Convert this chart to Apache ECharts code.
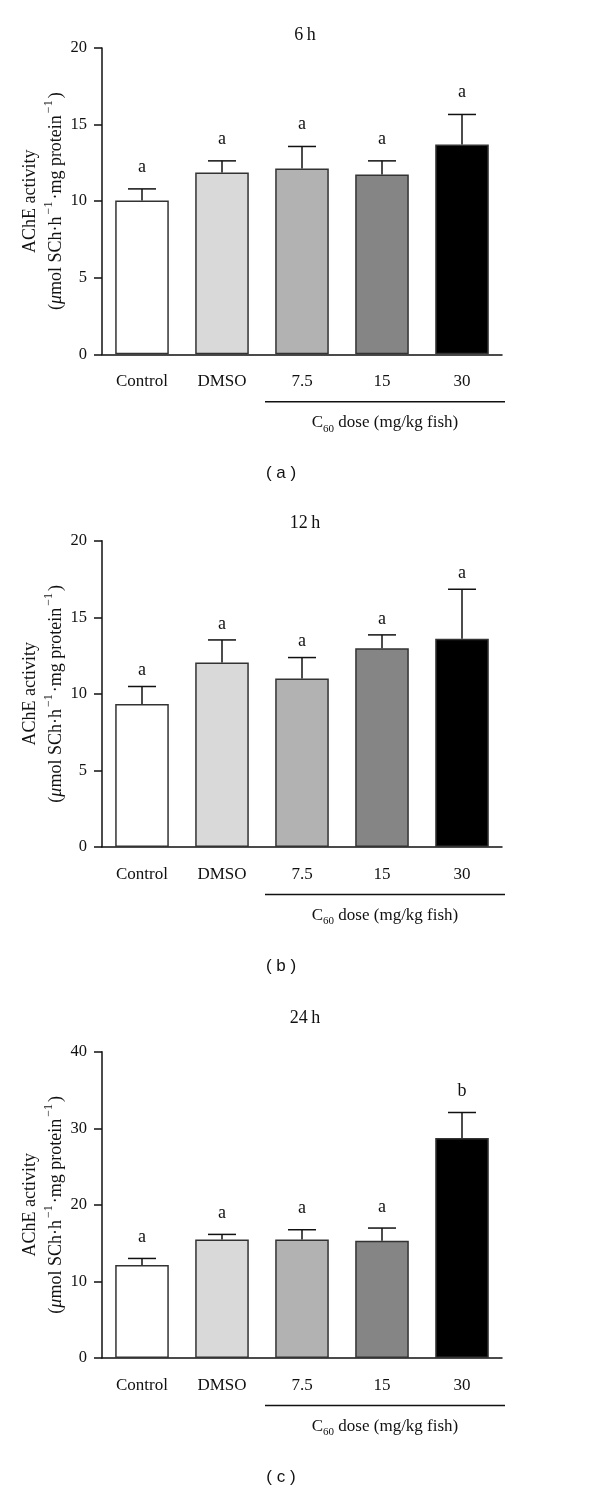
<!DOCTYPE html>
<html>
<head>
<meta charset="utf-8">
<script src="https://cdn.jsdelivr.net/npm/echarts@6/dist/echarts.min.js"></script>
<style>
html,body{margin:0;padding:0;background:#fff;}
#chart{width:600px;height:1491px;}
</style>
</head>
<body>
<div id="chart"></div>
<script>
// ---- data ----
var categories = ['Control', 'DMSO', '7.5', '15', '30'];
var panelTitles = ['6\u2009h', '12\u2009h', '24\u2009h'];
var panelCaptions = ['( a )', '( b )', '( c )'];
var mean6h  = [10.05, 11.87, 12.13, 11.74, 13.70];
var sem6h   = [0.75, 0.76, 1.44, 0.89, 1.96];
var mean12h = [9.33, 12.04, 11.00, 12.98, 13.59];
var sem12h  = [1.15, 1.48, 1.37, 0.87, 3.24];
var mean24h = [12.14, 15.48, 15.48, 15.31, 28.72];
var sem24h  = [0.86, 0.66, 1.27, 1.66, 3.34];
var letters6h  = ['a', 'a', 'a', 'a', 'a'];
var letters12h = ['a', 'a', 'a', 'a', 'a'];
var letters24h = ['a', 'a', 'a', 'a', 'b'];
var yMax = [20, 20, 40];
var yInterval = [5, 5, 10];

// ---- styling / layout ----
var barColors = ['#ffffff', '#d9d9d9', '#b2b2b2', '#858585', '#000000'];
var SERIF = '"Liberation Serif", "Times New Roman", serif';
var SANS = '"Liberation Sans", Arial, sans-serif';
var gridLeft = 102, gridWidth = 400;
var gridTops = [48, 540.7, 1051.7];
var gridHeight = 306.3;
var titleTops = [21, 509, 1004];
var letterGap = [22, 16, 21];

var means = [mean6h, mean12h, mean24h];
var sems = [sem6h, sem12h, sem24h];
var letters = [letters6h, letters12h, letters24h];

var grids = [], xAxes = [], yAxes = [], series = [], titles = [], graphics = [];

for (var p = 0; p < 3; p++) {
  grids.push({left: gridLeft, width: gridWidth, top: gridTops[p], height: gridHeight, containLabel: false});
  titles.push({
    text: panelTitles[p], left: 300, textAlign: 'center', top: titleTops[p],
    textStyle: {fontFamily: SERIF, fontSize: 18, fontWeight: 'normal', color: '#111'}
  });
  xAxes.push({
    type: 'category', gridIndex: p, data: categories,
    axisLine: {lineStyle: {color: '#111', width: 1.5}},
    axisTick: {alignWithLabel: true, length: 10, lineStyle: {color: '#111', width: 1.5}},
    axisLabel: {fontFamily: SERIF, fontSize: 17, color: '#111', margin: 19}
  });
  yAxes.push({
    type: 'value', gridIndex: p, min: 0, max: yMax[p], interval: yInterval[p],
    splitLine: {show: false},
    axisLine: {show: true, lineStyle: {color: '#111', width: 1.5}},
    axisTick: {show: true, length: 8, lineStyle: {color: '#111', width: 1.5}},
    axisLabel: {fontFamily: SERIF, fontSize: 16.5, color: '#111', margin: 15},
    name: '{t|AChE activity}\n{t|(}{mu|\u03bc}{t|mol SCh\u00b7h}{sup|\u22121}{t|\u00b7mg protein}{sup|\u22121}{t|)}',
    nameLocation: 'middle', nameRotate: 90, nameGap: 33, nameMoveOverlap: false,
    nameTextStyle: {
      fontFamily: SERIF, fontSize: 18, color: '#111', lineHeight: 26,
      rich: {
        t: {fontFamily: SERIF, fontSize: 18, color: '#111', lineHeight: 26},
        mu: {fontFamily: SERIF, fontSize: 18, fontStyle: 'italic', color: '#111', lineHeight: 26},
        sup: {fontFamily: SERIF, fontSize: 12, color: '#111', verticalAlign: 'top', lineHeight: 12, padding: [0, 2, 0, 2]}
      }
    }
  });
  series.push({
    type: 'bar', xAxisIndex: p, yAxisIndex: p, barWidth: '67%',
    data: means[p].map(function (v, i) {
      return {value: v, itemStyle: {color: barColors[i]}};
    }),
    itemStyle: {borderColor: '#333', borderWidth: 1.5},
    silent: true
  });
  (function (pi) {
    series.push({
      type: 'custom', xAxisIndex: pi, yAxisIndex: pi, z: 5,
      data: means[pi].map(function (v, i) { return [i, v, v + sems[pi][i]]; }),
      renderItem: function (params, api) {
        var i = api.value(0);
        var base = api.coord([i, api.value(1)]);
        var top = api.coord([i, api.value(2)]);
        var cap = 14;
        return {
          type: 'group',
          children: [
            {type: 'line', shape: {x1: base[0], y1: base[1], x2: top[0], y2: top[1]}, style: {stroke: '#111', lineWidth: 1.5}},
            {type: 'line', shape: {x1: top[0] - cap, y1: top[1], x2: top[0] + cap, y2: top[1]}, style: {stroke: '#111', lineWidth: 1.5}},
            {type: 'text', x: top[0], y: top[1] - letterGap[pi],
              style: {text: letters[pi][params.dataIndex], fontFamily: SERIF, fontSize: 18, fill: '#111', align: 'center', verticalAlign: 'middle'}}
          ]
        };
      }
    });
  })(p);

  var axisY = gridTops[p] + gridHeight;
  var band = gridWidth / categories.length;
  var lx1 = gridLeft + 2 * band + 3, lx2 = gridLeft + gridWidth + 3;
  graphics.push({type: 'line', shape: {x1: lx1, y1: axisY + 47.5, x2: lx2, y2: axisY + 47.5}, style: {stroke: '#111', lineWidth: 1.5}});
  graphics.push({type: 'text', x: (lx1 + lx2) / 2, y: axisY + 70,
    style: {text: '{m|C}{sub|60}{m| dose (mg/kg fish)}', fontFamily: SERIF, fontSize: 17, fill: '#111', align: 'center', verticalAlign: 'middle',
      rich: {
        m: {fontFamily: SERIF, fontSize: 17, fill: '#111', verticalAlign: 'top', lineHeight: 20},
        sub: {fontFamily: SERIF, fontSize: 11, fill: '#111', verticalAlign: 'bottom', lineHeight: 10}
      }}});
  graphics.push({type: 'text', x: 281, y: axisY + 119,
    style: {text: panelCaptions[p], fontFamily: SANS, fontSize: 17, fill: '#111', align: 'center', verticalAlign: 'middle'}});
}

var chart = echarts.init(document.getElementById('chart'), null, {renderer: 'canvas'});
chart.setOption({
  backgroundColor: '#fff',
  animation: false,
  title: titles,
  grid: grids,
  xAxis: xAxes,
  yAxis: yAxes,
  series: series,
  graphic: graphics
});
</script>
</body>
</html>
